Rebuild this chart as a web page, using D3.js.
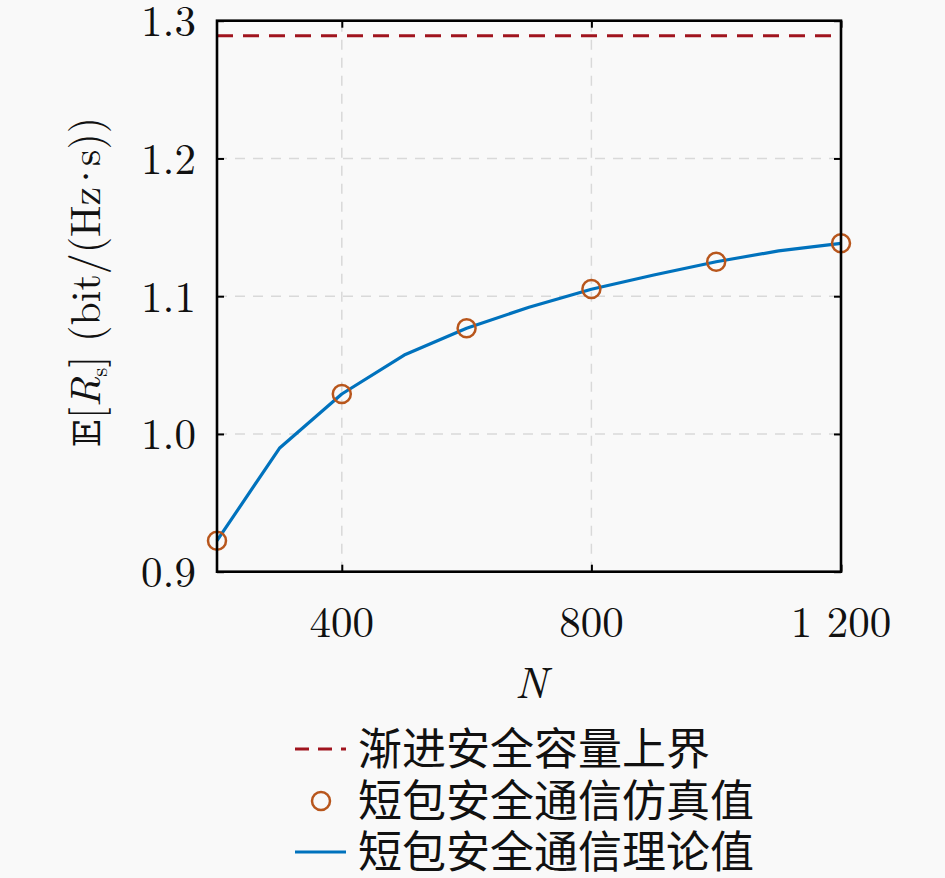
<!DOCTYPE html>
<html><head><meta charset="utf-8">
<script src="https://cdn.jsdelivr.net/npm/d3@7/dist/d3.min.js"></script>
<style>
html,body{margin:0;padding:0;background:#f9f9f9;}
svg{display:block;}
</style></head>
<body>
<svg id="chart" width="945" height="878"></svg>
<script>
// ---- data ----
const theoryN = [200, 300, 400, 500, 600, 700, 800, 900, 1000, 1100, 1200];
const theoryR = [0.9225, 0.9896, 1.0290, 1.0573, 1.0767, 1.0920, 1.1050, 1.1154, 1.1250, 1.1329, 1.1384];
const simN = [200, 400, 600, 800, 1000, 1200];
const simR = [0.9225, 1.0290, 1.0767, 1.1052, 1.1250, 1.1384];
const boundR = 1.289;
const xTicks = [400, 800, 1200];
const xTickLabels = ["400", "800", "1 200"];
const yTicks = [0.9, 1.0, 1.1, 1.2, 1.3];
const yTickLabels = ["0.9", "1.0", "1.1", "1.2", "1.3"];
const legendLabels = ["渐进安全容量上界", "短包安全通信仿真值", "短包安全通信理论值"];

const colLine = "#0072BD", colCirc = "#B8561C", colBound = "#A0141E";
const svg = d3.select("#chart");
const L = 217, R = 841, T = 20.7, B = 571.7;
const x = d3.scaleLinear().domain([200, 1200]).range([L, R]);
const y = d3.scaleLinear().domain([0.9, 1.3]).range([B, T]);
const serif = "'Latin Modern Roman','CMU Serif','Liberation Serif','DejaVu Serif',serif";

// grid
const g = svg.append("g");
g.selectAll(".gx").data(xTicks.filter(d => d < 1200)).join("line")
  .attr("x1", d => x(d)).attr("x2", d => x(d)).attr("y1", B).attr("y2", T)
  .attr("stroke", "#d9d9d9").attr("stroke-width", 1.5).attr("stroke-dasharray", "10,8");
g.selectAll(".gy").data(yTicks.filter(d => d > 0.9 && d < 1.3)).join("line")
  .attr("x1", L).attr("x2", R).attr("y1", d => y(d)).attr("y2", d => y(d))
  .attr("stroke", "#d9d9d9").attr("stroke-width", 1.5).attr("stroke-dasharray", "10,8");

// bound
svg.append("line").attr("x1", L).attr("x2", R).attr("y1", y(boundR)).attr("y2", y(boundR))
  .attr("stroke", colBound).attr("stroke-width", 3).attr("stroke-dasharray", "16,10");

// theory line
const lineGen = d3.line().x((d, i) => x(theoryN[i])).y((d, i) => y(theoryR[i]));
svg.append("path").datum(theoryR).attr("d", lineGen)
  .attr("fill", "none").attr("stroke", colLine).attr("stroke-width", 3.2).attr("stroke-linejoin", "round");

// sim circles
svg.selectAll(".sim").data(simR).join("circle")
  .attr("cx", (d, i) => x(simN[i])).attr("cy", d => y(d)).attr("r", 9)
  .attr("fill", "none").attr("stroke", colCirc).attr("stroke-width", 2.5);

// axes box & ticks
const axL = d3.axisLeft(y).tickValues(yTicks).tickSize(-7).tickFormat("");
const axR = d3.axisRight(y).tickValues(yTicks).tickSize(-7).tickFormat("");
const axB = d3.axisBottom(x).tickValues(xTicks).tickSize(-7).tickFormat("");
const axT = d3.axisTop(x).tickValues(xTicks).tickSize(-7).tickFormat("");
[[axL, `translate(${L},0)`], [axR, `translate(${R},0)`], [axB, `translate(0,${B})`], [axT, `translate(0,${T})`]]
  .forEach(([a, t]) => {
    const gg = svg.append("g").attr("transform", t).call(a);
    gg.select(".domain").remove();
    gg.selectAll("line").attr("stroke", "#000").attr("stroke-width", 2);
  });
svg.append("rect").attr("x", L).attr("y", T).attr("width", R - L).attr("height", B - T)
  .attr("fill", "none").attr("stroke", "#000").attr("stroke-width", 2.6);

// tick labels
svg.selectAll(".ytl").data(yTicks).join("text")
  .attr("x", 196).attr("y", d => y(d)).attr("dy", "0.36em").attr("text-anchor", "end")
  .attr("font-family", serif).attr("font-size", 43).attr("fill", "#111")
  .text((d, i) => yTickLabels[i]);
svg.selectAll(".xtl").data(xTicks).join("text")
  .attr("x", d => x(d)).attr("y", 637).attr("text-anchor", "middle")
  .attr("font-family", serif).attr("font-size", 43).attr("fill", "#111")
  .text((d, i) => xTickLabels[i]);

// axis titles
svg.append("text").attr("x", (L + R) / 2 + 2).attr("y", 698).attr("text-anchor", "middle")
  .attr("font-family", serif).attr("font-style", "italic").attr("font-size", 44).attr("fill", "#111").text("N");

const yl = svg.append("text").attr("transform", "translate(100,282) rotate(-90)")
  .attr("text-anchor", "middle").attr("font-family", serif).attr("font-size", 42).attr("fill", "#111");
yl.append("tspan").attr("font-family", "'DejaVu Serif','DejaVu Sans',serif").attr("font-size", 37).text("𝔼");
yl.append("tspan").text("[");
yl.append("tspan").attr("font-style", "italic").text("R");
yl.append("tspan").attr("font-size", 23).attr("dy", 7).text("s");
yl.append("tspan").attr("dy", -7).text("] (bit/(Hz");
yl.append("tspan").attr("dx", -6).text("·");
yl.append("tspan").attr("dx", -6).text("s))");

// legend
const cjk = "'Noto Sans CJK SC','Noto Sans CJK JP',sans-serif";
const ly = [749, 801, 852];
svg.append("line").attr("x1", 295).attr("x2", 346).attr("y1", ly[0]).attr("y2", ly[0])
  .attr("stroke", colBound).attr("stroke-width", 3).attr("stroke-dasharray", "14,9");
svg.append("circle").attr("cx", 321).attr("cy", ly[1]).attr("r", 9)
  .attr("fill", "none").attr("stroke", colCirc).attr("stroke-width", 2.5);
svg.append("line").attr("x1", 295).attr("x2", 346).attr("y1", ly[2]).attr("y2", ly[2])
  .attr("stroke", colLine).attr("stroke-width", 3.2);
svg.selectAll(".lt").data(legendLabels).join("text")
  .attr("x", 358).attr("y", (d, i) => ly[i]).attr("dy", "0.36em")
  .attr("font-family", cjk).attr("font-size", 44).attr("fill", "#111").text(d => d);
</script>
</body></html>
